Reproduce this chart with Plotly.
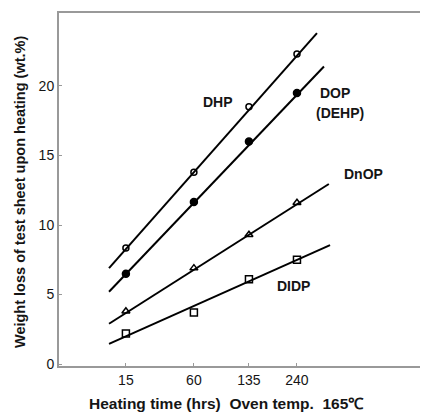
import plotly.graph_objects as go

# ---- data ----
hours = [15, 60, 135, 240]
tick_labels = ["15", "60", "135", "240"]
dhp = [8.35, 13.8, 18.5, 22.3]
dop = [6.5, 11.65, 16.0, 19.5]
dnop = [3.8, 6.9, 9.3, 11.6]
didp = [2.2, 3.7, 6.1, 7.5]

# fitted straight lines drawn through the points: (start hour, end hour), (start value, end value)
dhp_line_hours = [9.5, 297]
dhp_line_vals = [6.9, 23.8]
dop_line_hours = [9.5, 319]
dop_line_vals = [5.2, 21.4]
dnop_line_hours = [9.5, 335]
dnop_line_vals = [2.9, 12.95]
didp_line_hours = [9.5, 339]
didp_line_vals = [1.45, 8.55]

y_ticks = [0, 5, 10, 15, 20]

# the time axis of the original is a power-scaled axis (hours ** 0.3)
POW = 0.3


def tx(h):
    return [v ** POW for v in h]


FONT = "Liberation Sans, Arial, sans-serif"
INK = "#151515"

fig = go.Figure()

series = [
    (dhp, dhp_line_hours, dhp_line_vals, dict(symbol="circle-open", size=6)),
    (dop, dop_line_hours, dop_line_vals, dict(symbol="circle", size=7)),
    (dnop, dnop_line_hours, dnop_line_vals, dict(symbol="triangle-up-open", size=7)),
    (didp, didp_line_hours, didp_line_vals, dict(symbol="square-open", size=7)),
]

for vals, lh, lv, mk in series:
    fig.add_trace(go.Scatter(x=tx(lh), y=lv, mode="lines",
                             line=dict(color="black", width=2),
                             showlegend=False, hoverinfo="skip"))
    fig.add_trace(go.Scatter(x=tx(hours), y=vals, mode="markers",
                             marker=dict(color="black", line=dict(color="black", width=1.5), **mk),
                             showlegend=False))

labels = [
    ("DHP", 88, 18.85),
    ("DOP", 356, 19.5),
    ("(DEHP)", 374, 18.06),
    ("DnOP", 464, 13.67),
    ("DIDP", 232, 5.61),
]
for text, hx, vy in labels:
    fig.add_annotation(x=hx ** POW, y=vy, text="<b>" + text + "</b>", showarrow=False,
                       font=dict(family=FONT, size=14, color=INK))

# axis titles
fig.add_annotation(xref="paper", yref="paper", x=(226 - 59) / 369, y=-(404 - 366) / 353,
                   text="<b>Heating time (hrs)  Oven temp.  165℃</b>", showarrow=False,
                   font=dict(family=FONT, size=15.5, color=INK), xanchor="center", yanchor="middle")
fig.add_annotation(xref="paper", yref="paper", x=-(59 - 20) / 369, y=(366 - 192) / 353,
                   text="<b>Weight loss of test sheet upon heating (wt.%)</b>", showarrow=False,
                   textangle=-90,
                   font=dict(family=FONT, size=14.5, color=INK), xanchor="center", yanchor="middle")

fig.update_xaxes(
    range=[1.110, 7.416],
    tickvals=tx(hours), ticktext=tick_labels,
    ticks="inside", ticklen=3, tickcolor="#999", tickwidth=1,
    showline=True, linecolor="#999", linewidth=2, mirror=True,
    showgrid=False, zeroline=False, automargin=False,
    tickfont=dict(family=FONT, size=14, color=INK),
)
fig.update_yaxes(
    range=[-0.14, 25.25],
    tickvals=y_ticks,
    ticks="inside", ticklen=3, tickcolor="#999", tickwidth=1,
    showline=True, linecolor="#999", linewidth=2,
    showgrid=False, zeroline=False, automargin=False,
    tickfont=dict(family=FONT, size=14, color=INK),
)

# the page body has an 8px default margin, so the figure is sized to fit the window
fig.update_layout(
    width=420, height=406,
    margin=dict(l=51, r=0, t=5, b=48),
    plot_bgcolor="white", paper_bgcolor="white",
)

fig.write_html("out.html")
